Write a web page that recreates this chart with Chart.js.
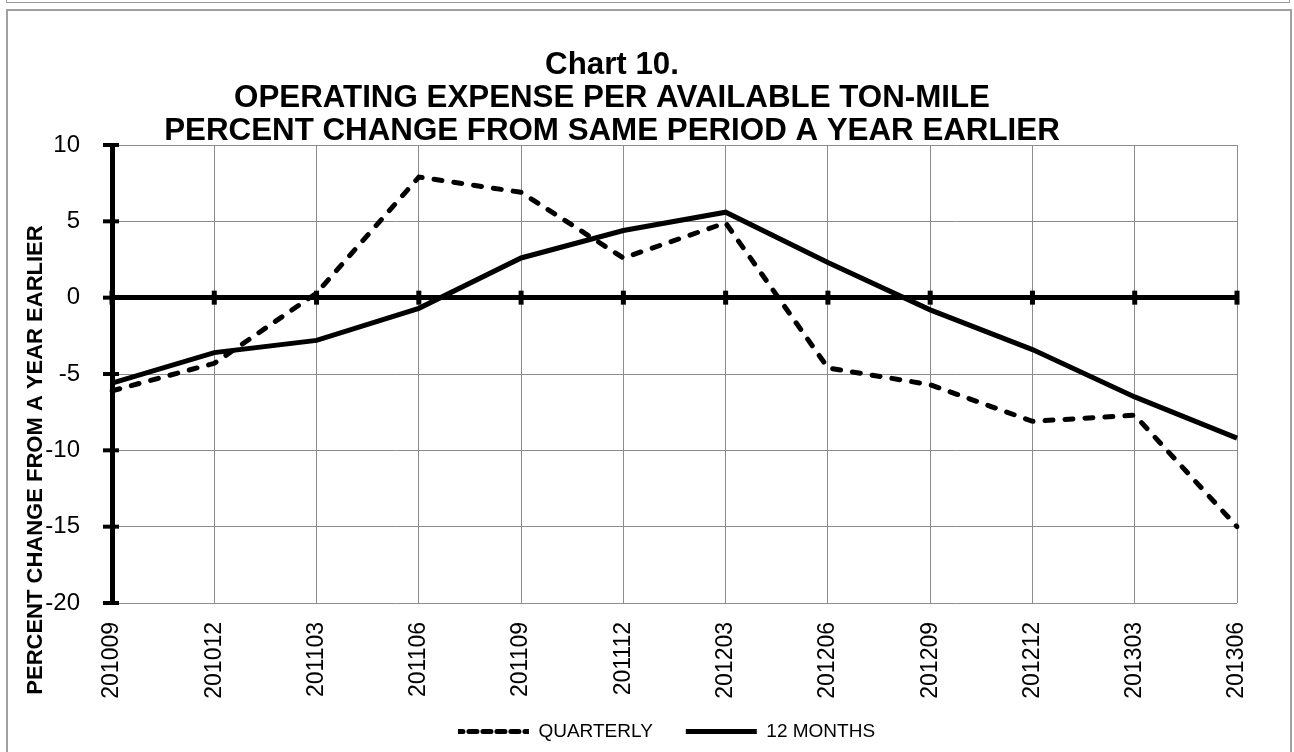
<!DOCTYPE html>
<html>
<head>
<meta charset="utf-8">
<title>Chart 10</title>
<script src="https://cdn.jsdelivr.net/npm/chart.js@4.4.1/dist/chart.umd.min.js"></script>
<style>
  html, body { margin: 0; padding: 0; background: #fff; overflow: hidden; }
  body { width: 1294px; height: 752px; position: relative; }
  .prev-box { position: absolute; left: 6px; top: -20px; width: 1282px; height: 21px; border: 1px solid #9a9a9a; }
  .frame { position: absolute; left: 6px; top: 9px; width: 1282px; height: 760px; border: 2px solid #a0a0a0; }
  #chart { position: absolute; left: 0; top: 0; }
</style>
</head>
<body>
<div class="prev-box"></div>
<div class="frame"></div>
<canvas id="chart" width="1294" height="752"></canvas>
<script>
'use strict';

// ── Data ─────────────────────────────────────────────────────────
const periods = ['201009', '201012', '201103', '201106', '201109', '201112',
                 '201203', '201206', '201209', '201212', '201303', '201306'];
const quarterly    = [-6.1, -4.3, 0.3, 7.9, 6.9, 2.6, 4.9, -4.6, -5.7, -8.1, -7.7, -15.0];
const twelveMonths = [-5.6, -3.6, -2.8, -0.7, 2.6, 4.4, 5.6, 2.3, -0.8, -3.4, -6.5, -9.2];
const yMin = -20;
const yMax = 10;
const yStep = 5;

const titleLines = [
  'Chart 10.',
  'OPERATING EXPENSE PER AVAILABLE TON-MILE',
  'PERCENT CHANGE FROM SAME PERIOD A YEAR EARLIER',
];
const yTitle = 'PERCENT CHANGE FROM A YEAR EARLIER';

// ── Style ────────────────────────────────────────────────────────
const FONT = '"Liberation Sans", Arial, Helvetica, sans-serif';
const GRID = '#8c8c8c';
const INK = '#000';

Chart.defaults.font.family = FONT;
Chart.defaults.color = INK;

// titles, cross ticks on the axis / zero line, legend nudge
const decor = {
  id: 'decor',
  afterLayout(chart) {
    const lg = chart.legend;
    lg.left -= 8;
    lg.right -= 8;
    lg.top -= 11;
    lg.bottom -= 11;
  },
  afterDatasetsDraw(chart) {
    const { ctx, chartArea } = chart;
    const x = chart.scales.x;
    const y = chart.scales.y;
    const y0 = y.getPixelForValue(0);
    ctx.save();
    ctx.strokeStyle = INK;
    ctx.lineWidth = 4;
    y.ticks.forEach((t) => {
      const py = y.getPixelForValue(t.value);
      ctx.beginPath();
      ctx.moveTo(chartArea.left - 9, py);
      ctx.lineTo(chartArea.left + 7, py);
      ctx.stroke();
    });
    ctx.lineWidth = 5;
    periods.forEach((_, i) => {
      const px = x.getPixelForValue(i);
      ctx.beginPath();
      ctx.moveTo(px, y0 - 7);
      ctx.lineTo(px, y0 + 7);
      ctx.stroke();
    });
    ctx.restore();
  },
  afterDraw(chart) {
    const { ctx } = chart;
    ctx.save();
    ctx.fillStyle = INK;
    ctx.textAlign = 'center';
    ctx.textBaseline = 'alphabetic';
    ctx.font = `bold 31.3px ${FONT}`;
    const baselines = [74, 107, 140];
    titleLines.forEach((line, i) => ctx.fillText(line, 612, baselines[i]));

    ctx.font = `bold 22px ${FONT}`;
    ctx.textBaseline = 'middle';
    ctx.translate(36, 460);
    ctx.rotate(-Math.PI / 2);
    ctx.fillText(yTitle, 0, 0);
    ctx.restore();
  },
};

// ── Chart ────────────────────────────────────────────────────────
new Chart(document.getElementById('chart'), {
  type: 'line',
  data: {
    labels: periods,
    datasets: [
      {
        label: 'QUARTERLY',
        data: quarterly,
        borderColor: INK,
        borderWidth: 5,
        borderDash: [8, 12],
        borderCapStyle: 'round',
        pointRadius: 0,
        tension: 0,
        fill: false,
      },
      {
        label: '12 MONTHS',
        data: twelveMonths,
        borderColor: INK,
        borderWidth: 5,
        pointRadius: 0,
        tension: 0,
        fill: false,
      },
    ],
  },
  options: {
    responsive: false,
    animation: false,
    layout: { padding: { top: 145, right: 57, bottom: 0, left: 0 } },
    plugins: {
      title: { display: false },
      tooltip: { enabled: false },
      legend: {
        position: 'bottom',
        fullSize: false,
        maxHeight: 52,
        labels: {
          boxWidth: 71,
          boxHeight: 0,
          padding: 33,
          color: INK,
          font: { size: 19 },
          generateLabels(chart) {
            const items = Chart.defaults.plugins.legend.labels.generateLabels(chart);
            items.forEach((it) => {
              it.lineWidth = 5;
              it.fillStyle = 'rgba(0,0,0,0)';
              it.strokeStyle = INK;
            });
            items[0].lineDash = [5, 9];
            items[0].lineCap = 'round';
            return items;
          },
        },
      },
    },
    scales: {
      x: {
        offset: false,
        afterFit: (s) => { s.height = 97; },
        border: { display: false },
        grid: { color: GRID, lineWidth: 1, drawTicks: false },
        ticks: {
          autoSkip: false,
          minRotation: 90,
          maxRotation: 90,
          padding: 19,
          color: INK,
          font: { size: 23 },
        },
      },
      y: {
        min: yMin,
        max: yMax,
        afterFit: (s) => { s.width = 112; },
        border: { color: INK, width: 5 },
        grid: {
          drawTicks: false,
          color: (c) => (c.tick && c.tick.value === 0 ? INK : GRID),
          lineWidth: (c) => (c.tick && c.tick.value === 0 ? 5 : 1),
        },
        ticks: {
          stepSize: yStep,
          padding: 32,
          color: INK,
          font: { size: 24 },
        },
      },
    },
  },
  plugins: [decor],
});
</script>
</body>
</html>
